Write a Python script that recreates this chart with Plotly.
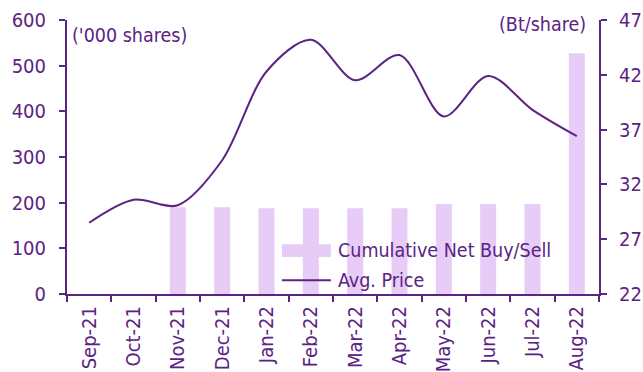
import plotly.graph_objects as go

months = ["Sep-21", "Oct-21", "Nov-21", "Dec-21", "Jan-22", "Feb-22",
          "Mar-22", "Apr-22", "May-22", "Jun-22", "Jul-22", "Aug-22"]
net_buy_sell = [0, 0, 190, 190, 188, 188, 188, 188, 197, 197, 197, 527]
avg_price = [28.5, 30.6, 30.1, 34.2, 42.3, 45.2, 41.5, 43.8, 38.2, 41.9, 38.8, 36.4]
price_ticks = [22, 27, 32, 37, 42, 47]

PURPLE = "#5B2383"
LAVENDER = "#E6CCF6"
FONT = "DejaVu Sans Condensed, DejaVu Sans, sans-serif"

fig = go.Figure()
fig.add_trace(go.Bar(
    x=months, y=net_buy_sell, name="Cumulative Net Buy/Sell",
    marker=dict(color=LAVENDER, line=dict(width=0)), yaxis="y",
    showlegend=False,
))
fig.add_trace(go.Scatter(
    x=months, y=avg_price, name="Avg. Price", mode="lines",
    line=dict(color=PURPLE, width=2, shape="spline", smoothing=0.9),
    yaxis="y2", showlegend=False,
))

axis_common = dict(
    showgrid=False, zeroline=False, showline=True, linecolor=PURPLE,
    linewidth=2, ticks="outside", tickcolor=PURPLE, tickwidth=2, ticklen=6,
    tickfont=dict(color=PURPLE, size=20, family=FONT), automargin=False,
)

# hand-drawn legend (wide swatch for the bars, short rule for the line)
legend_shapes = [
    dict(type="rect", xref="paper", yref="paper", x0=0.404, x1=0.496,
         y0=0.135, y1=0.182, fillcolor=LAVENDER, line=dict(width=0)),
    dict(type="line", xref="paper", yref="paper", x0=0.404, x1=0.496,
         y0=0.050, y1=0.050, line=dict(color=PURPLE, width=2)),
]
legend_labels = [
    dict(text="Cumulative Net Buy/Sell", xref="paper", yref="paper",
         x=0.506, y=0.157, xanchor="left", yanchor="middle", showarrow=False,
         font=dict(size=19.5, color=PURPLE, family=FONT)),
    dict(text="Avg. Price", xref="paper", yref="paper",
         x=0.506, y=0.048, xanchor="left", yanchor="middle", showarrow=False,
         font=dict(size=19.5, color=PURPLE, family=FONT)),
]

fig.update_layout(
    width=643, height=372,
    margin=dict(l=67, r=44, t=20, b=78),
    paper_bgcolor="white", plot_bgcolor="white",
    font=dict(family=FONT, color=PURPLE, size=19),
    bargap=0.64,
    showlegend=False,
    xaxis=dict(**axis_common, type="category", range=[-0.5, 11.5],
               tickangle=-90, tickson="boundaries", ticklabelstandoff=2),
    yaxis=dict(**axis_common, range=[0, 600], dtick=100,
               ticklabelstandoff=9),
    yaxis2=dict(**axis_common, range=[22, 47], tickmode="array",
                tickvals=price_ticks, overlaying="y", side="right",
                ticklabelstandoff=8),
    shapes=legend_shapes,
    annotations=[
        dict(text="('000 shares)", xref="paper", yref="paper", x=0.005, y=0.945,
             xanchor="left", yanchor="middle", showarrow=False,
             font=dict(size=19.5, color=PURPLE, family=FONT)),
        dict(text="(Bt/share)", xref="paper", yref="paper", x=0.98, y=0.985,
             xanchor="right", yanchor="middle", showarrow=False,
             font=dict(size=19.5, color=PURPLE, family=FONT)),
    ] + legend_labels,
)

fig.write_html("out.html")
